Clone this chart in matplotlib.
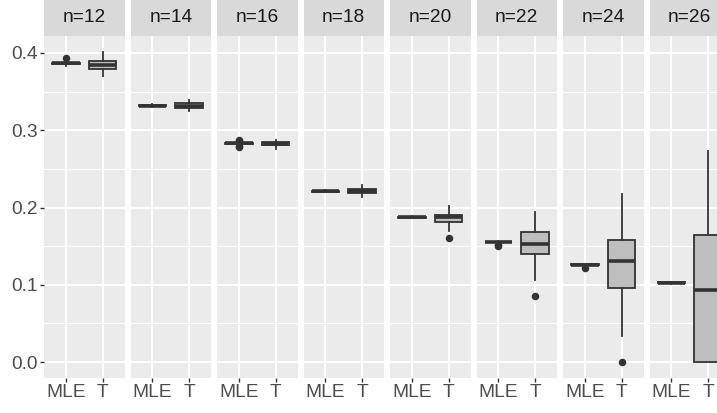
import matplotlib
matplotlib.use("Agg")
import matplotlib.pyplot as plt

plt.rcParams['font.family'] = ['Liberation Sans', 'DejaVu Sans']

facets = ["n=12", "n=14", "n=16", "n=18", "n=20", "n=22", "n=24", "n=26"]
methods = ["MLE", "T"]

# per facet: (q1, med, q3, whislo, whishi, fliers)
mle_stats = [
    (0.3858, 0.3866, 0.3875, 0.3835, 0.3890, [0.3930]),
    (0.3315, 0.3320, 0.3325, 0.3300, 0.3340, []),
    (0.2820, 0.2830, 0.2840, 0.2805, 0.2855, [0.2870, 0.2865, 0.2785, 0.2790]),
    (0.2205, 0.2210, 0.2215, 0.2195, 0.2225, []),
    (0.1868, 0.1873, 0.1878, 0.1862, 0.1884, []),
    (0.1548, 0.1553, 0.1558, 0.1543, 0.1563, [0.1508, 0.1512]),
    (0.1255, 0.1260, 0.1265, 0.1250, 0.1270, [0.1212]),
    (0.1022, 0.1027, 0.1032, 0.1015, 0.1040, []),
]
t_stats = [
    (0.3795, 0.3840, 0.3890, 0.3700, 0.4017, []),
    (0.3292, 0.3320, 0.3347, 0.3245, 0.3390, []),
    (0.2807, 0.2828, 0.2845, 0.2760, 0.2872, []),
    (0.2185, 0.2210, 0.2235, 0.2130, 0.2290, []),
    (0.1812, 0.1872, 0.1903, 0.1700, 0.2020, [0.1605]),
    (0.1392, 0.1523, 0.1689, 0.1061, 0.1938, [0.0859]),
    (0.0952, 0.1307, 0.1577, 0.0340, 0.2170, [0.0000]),
    (0.0000, 0.0936, 0.1648, 0.0000, 0.2730, []),
]
yticks = [0.0, 0.1, 0.2, 0.3, 0.4]

W, H = 717, 413
fig = plt.figure(figsize=(W / 100, H / 100), dpi=100)

panel_left0 = 44
panel_w = 80.6
step = 86.5
panel_top = 36
panel_bot = 378

line_c = "#333333"
fill_c = "#BEBEBE"

for i, lab in enumerate(facets):
    left = panel_left0 + i * step
    ax = fig.add_axes([left / W, (H - panel_bot) / H, panel_w / W, (panel_bot - panel_top) / H])
    ax.set_facecolor("#EBEBEB")
    for s in ax.spines.values():
        s.set_visible(False)
    stats = []
    for st in (mle_stats[i], t_stats[i]):
        q1, med, q3, lo, hi, fl = st
        stats.append(dict(q1=q1, med=med, q3=q3, whislo=lo, whishi=hi, fliers=fl))
    ax.bxp(stats, positions=[1, 2], widths=0.75, patch_artist=True,
           showcaps=False,
           boxprops=dict(facecolor=fill_c, edgecolor=line_c, linewidth=1.3),
           whiskerprops=dict(color=line_c, linewidth=1.3),
           medianprops=dict(color=line_c, linewidth=2.6, solid_capstyle='butt'),
           flierprops=dict(marker='o', markerfacecolor=line_c, markeredgecolor=line_c,
                           markersize=4.4, linestyle='none'),
           zorder=3)
    ax.set_xlim(0.4, 2.6)
    ax.set_ylim(-0.0207, 0.422)
    ax.set_yticks(yticks)
    ax.set_yticks([0.05, 0.15, 0.25, 0.35], minor=True)
    ax.set_xticks([1, 2])
    ax.set_xticklabels(methods)
    ax.grid(True, which='major', color='white', linewidth=1.4, zorder=0)
    ax.grid(True, which='minor', axis='y', color='white', linewidth=0.7, zorder=0)
    ax.set_axisbelow(True)
    ax.tick_params(axis='both', which='major', length=3, width=1.0, color=line_c,
                   labelcolor="#4D4D4D", labelsize=13.8, pad=1.5)
    ax.tick_params(axis='both', which='minor', length=0)
    if i == 0:
        ax.set_yticklabels([f"{v:.1f}" for v in yticks])
    else:
        ax.tick_params(axis='y', which='both', left=False, labelleft=False)
    # strip
    sax = fig.add_axes([left / W, (H - panel_top) / H, panel_w / W, panel_top / H])
    sax.set_facecolor("#D9D9D9")
    for s in sax.spines.values():
        s.set_visible(False)
    sax.set_xticks([])
    sax.set_yticks([])
    sax.text(0.5, 0.5, lab, ha='center', va='center', fontsize=13.8,
             color="#1A1A1A", transform=sax.transAxes)

fig.savefig("out.png", dpi=100, facecolor="white")
